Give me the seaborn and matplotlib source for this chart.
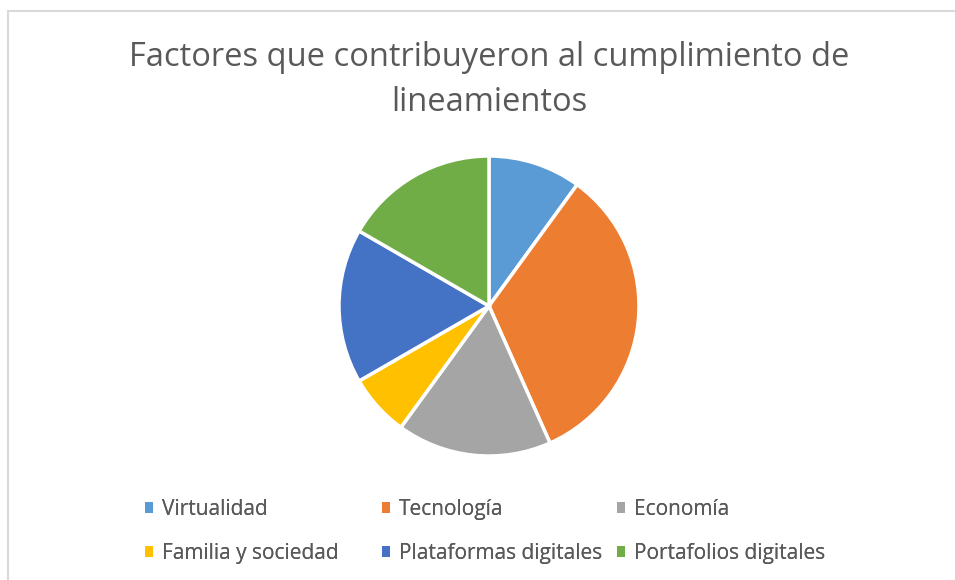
import matplotlib
matplotlib.use("Agg")
import matplotlib.pyplot as plt
from matplotlib.patches import Patch, Rectangle
import seaborn as sns

categories = ["Virtualidad", "Tecnología", "Economía", "Familia y sociedad",
              "Plataformas digitales", "Portafolios digitales"]
values = [3, 10, 5, 2, 5, 5]
colors = ["#5B9BD5", "#ED7D31", "#A5A5A5", "#FFC000", "#4472C4", "#70AD47"]
title = "Factores que contribuyeron al cumplimiento de\nlineamientos"

sns.set_theme(style="white")
plt.rcParams["font.family"] = ["Open Sans", "DejaVu Sans"]
palette = sns.color_palette(colors)

W, H = 955, 580
fig = plt.figure(figsize=(W / 100, H / 100), dpi=100)
fig.patch.set_facecolor("white")

# chart border
fig.add_artist(Rectangle((8 / W, -0.1), 1.2, 1 - 11 / H + 0.1, transform=fig.transFigure,
                         fill=False, edgecolor="#D9D9D9", linewidth=1.5))

cx, cy, r = 489, 306, 150
ax = fig.add_axes([(cx - r) / W, (H - cy - r) / H, 2 * r / W, 2 * r / H])
ax.pie(values, colors=palette, startangle=90, counterclock=False, radius=1,
       wedgeprops=dict(edgecolor="white", linewidth=2.5))
ax.set_xlim(-1.0, 1.0)
ax.set_ylim(-1.0, 1.0)
ax.set_aspect("equal")
ax.axis("off")

fig.text(489 / W, 1 - 80 / H, title, ha="center", va="center", fontsize=23.5,
         color="#595959", linespacing=1.45)

# legend: 3 columns with fixed widths, two rows (row-wise order)
col_x = [145, 382, 617]
for j, x in enumerate(col_x):
    idx = [j, j + 3]
    hs = [Patch(facecolor=palette[i], edgecolor="none") for i in idx]
    labs = [categories[i] for i in idx]
    leg = fig.legend(hs, labs, ncol=1, loc="center left",
                     bbox_to_anchor=(x / W, 1 - 531.5 / H), frameon=False,
                     fontsize=15, labelcolor="#595959", handlelength=0.38,
                     handleheight=0.38, handletextpad=0.45, borderpad=0,
                     borderaxespad=0, labelspacing=1.1)
    fig.add_artist(leg)

fig.savefig("out.png", dpi=100, facecolor="white")
